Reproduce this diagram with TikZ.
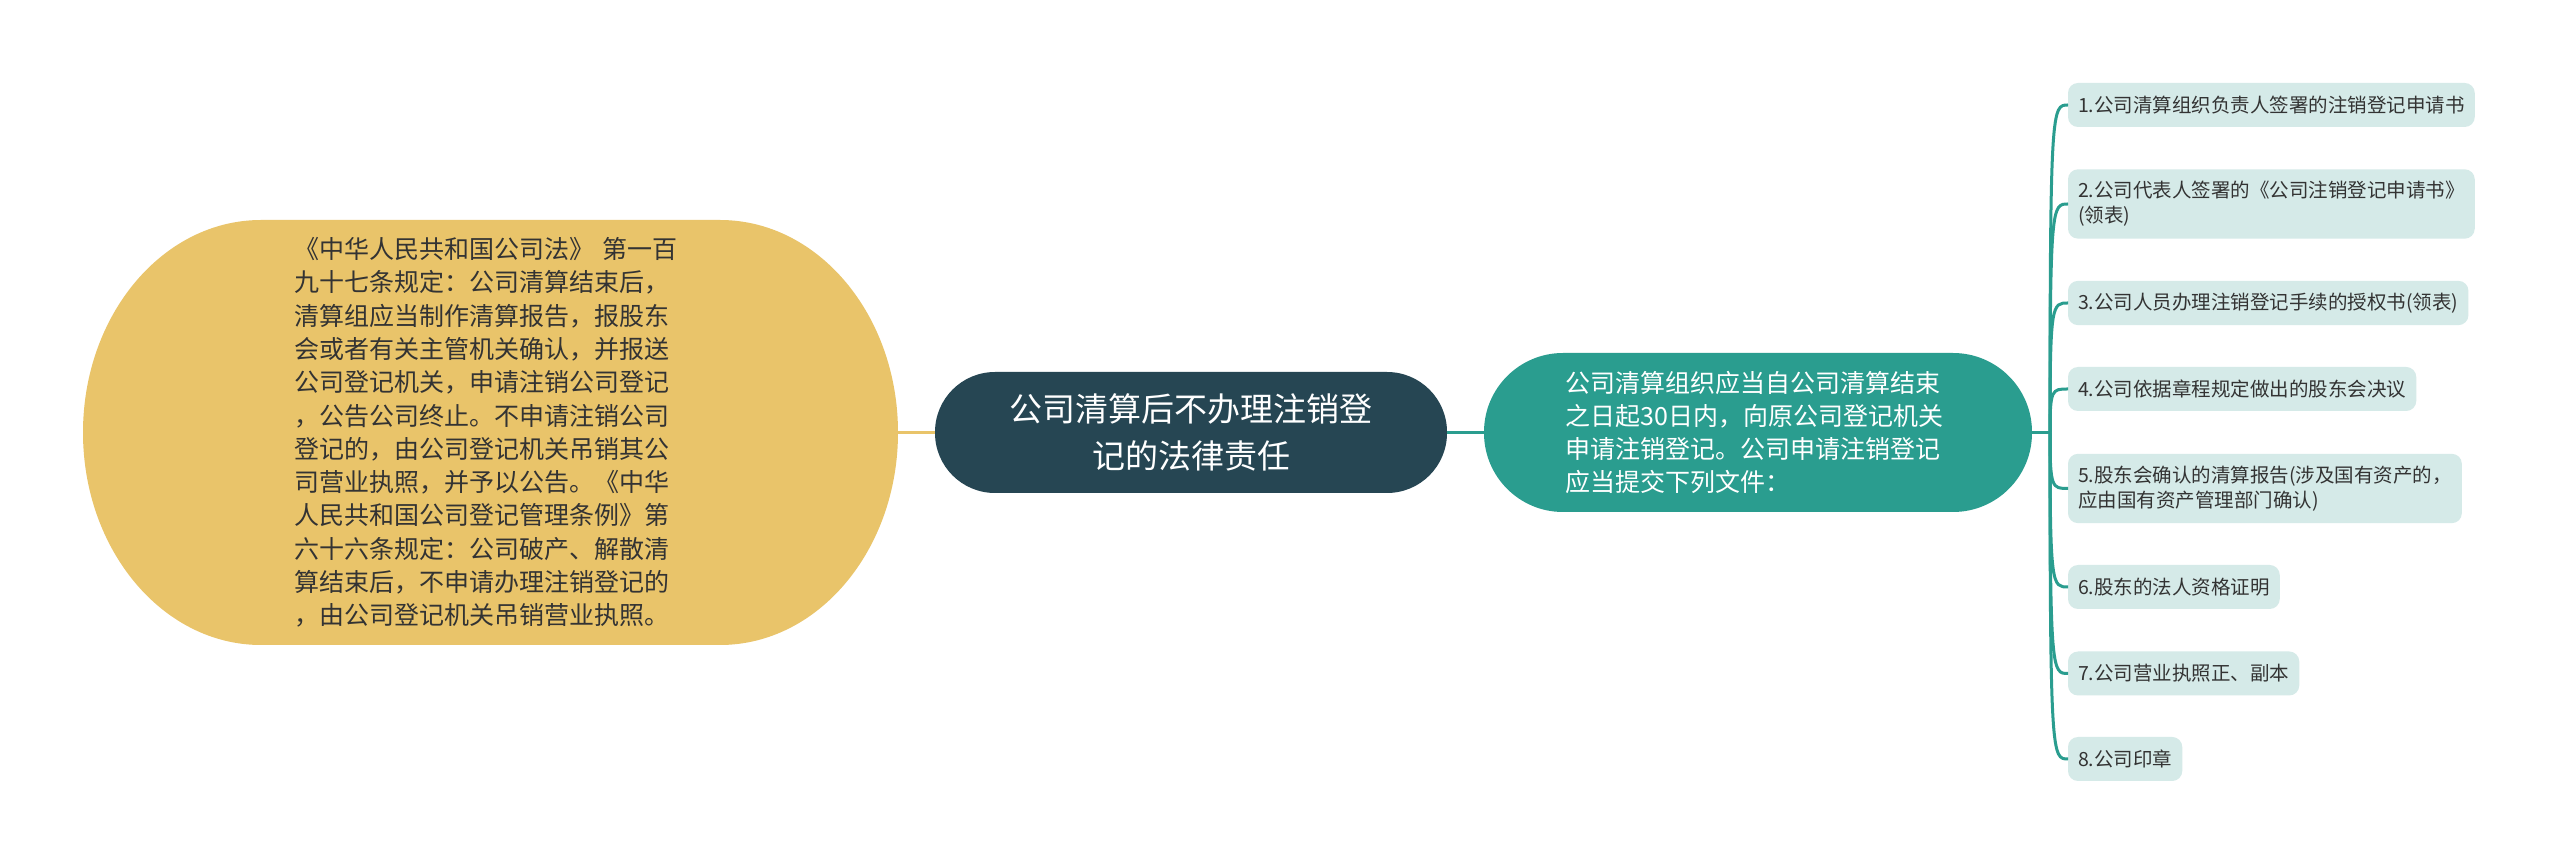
\documentclass[tikz,border=0pt]{standalone}
\usepackage{fontspec}
\setmainfont{Noto Sans CJK SC}
\usetikzlibrary{backgrounds,calc}
\definecolor{yelfill}{HTML}{E9C46A}
\definecolor{darkfill}{HTML}{264653}
\definecolor{tealfill}{HTML}{2A9D8F}
\definecolor{leaffill}{HTML}{D5EAE8}
\definecolor{txtdark}{HTML}{333333}
\begin{document}
\begin{tikzpicture}[x=1pt,y=1pt,
  every node/.style={outer sep=0pt},
  yelnode/.style={minimum width=815pt,minimum height=425pt,text width=392pt,align=left,
    text=txtdark,font=\fontsize{25pt}{33.3pt}\selectfont},
  cennode/.style={fill=darkfill,rounded corners=60pt,minimum width=512pt,minimum height=121pt,
    align=center,text=white,font=\fontsize{33pt}{47pt}\selectfont},
  tealnode/.style={fill=tealfill,rounded corners=79pt,minimum width=548pt,minimum height=159pt,
    text width=385pt,align=left,text=white,font=\fontsize{25pt}{33pt}\selectfont},
  leaf/.style={fill=leaffill,rounded corners=10pt,anchor=west,inner xsep=10pt,inner ysep=12pt,
    minimum height=44pt,align=left,text=txtdark,font=\fontsize{19.5pt}{25pt}\selectfont},
  yelline/.style={draw=yelfill,line width=3pt},
  tealline/.style={draw=tealfill,line width=3pt}]
\useasboundingbox (0,0) rectangle (2560,865);
\begin{scope}[on background layer]
\fill[white] (0,0) rectangle (2560,865);
\end{scope}

\node[yelnode] (yel) at (490.5,432.5) {《中华人民共和国公司法》 第一百\\
九十七条规定：公司清算结束后，\\
清算组应当制作清算报告，报股东\\
会或者有关主管机关确认，并报送\\
公司登记机关，申请注销公司登记\\
，公告公司终止。不申请注销公司\\
登记的，由公司登记机关吊销其公\\
司营业执照，并予以公告。《中华\\
人民共和国公司登记管理条例》第\\
六十六条规定：公司破产、解散清\\
算结束后，不申请办理注销登记的\\
，由公司登记机关吊销营业执照。};
\begin{scope}[on background layer]
\fill[yelfill] ([xshift=178pt]yel.north west) -- ([xshift=-178pt]yel.north east)
  arc[start angle=90,end angle=-90,x radius=178pt,y radius=212.5pt]
  -- ([xshift=178pt]yel.south west)
  arc[start angle=270,end angle=90,x radius=178pt,y radius=212.5pt] -- cycle;
\end{scope}

\node[cennode] (cen) at (1191,432.5) {公司清算后不办理注销登\\记的法律责任};
\node[tealnode] (tea) at (1758,432.5) {公司清算组织应当自公司清算结束\\之日起30日内，向原公司登记机关\\申请注销登记。公司申请注销登记\\应当提交下列文件：};
\coordinate (trunk) at (2050,432.5);

\node[leaf] (c1) at (2068,760) {1.公司清算组织负责人签署的注销登记申请书};
\node[leaf] (c2) at (2068,661) {2.公司代表人签署的《公司注销登记申请书》\\(领表)};
\node[leaf] (c3) at (2068,562) {3.公司人员办理注销登记手续的授权书(领表)};
\node[leaf] (c4) at (2068,476) {4.公司依据章程规定做出的股东会决议};
\node[leaf] (c5) at (2068,376.5) {5.股东会确认的清算报告(涉及国有资产的，\\应由国有资产管理部门确认)};
\node[leaf] (c6) at (2068,278) {6.股东的法人资格证明};
\node[leaf] (c7) at (2068,191.5) {7.公司营业执照正、副本};
\node[leaf] (c8) at (2068,106) {8.公司印章};

\draw[yelline] (yel.east) -- (cen.west);
\draw[tealline] (cen.east) -- (tea.west);
\draw[tealline] (tea.east) -- (trunk);
\foreach \c in {c1,c2,c3,c4,c5,c6,c7,c8}{
  \draw[tealline] (trunk) .. controls (trunk |- \c.west) and ([xshift=-16pt]\c.west) .. (\c.west);
}
\end{tikzpicture}
\end{document}
